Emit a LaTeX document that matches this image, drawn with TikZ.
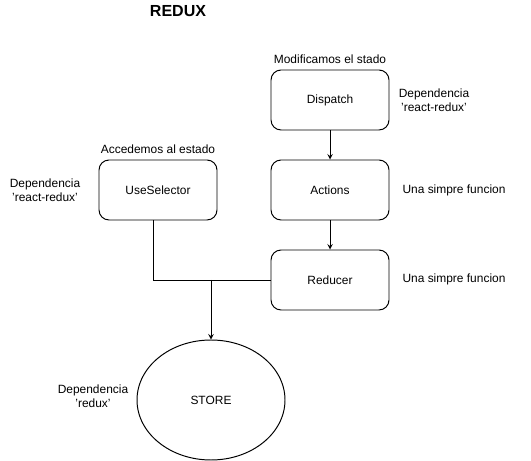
\documentclass[tikz,border=0pt]{standalone}
\usepackage{fontspec}
\setmainfont{Liberation Sans}
\usetikzlibrary{shapes.geometric}

\tikzstyle{function} = [rectangle, rounded corners=0.25cm, minimum width=2.95cm,
minimum height=1.5cm, text centered, draw=black, line width=0.7pt,
font=\fontsize{8.5}{10}\selectfont]
\tikzstyle{storage} = [ellipse, minimum width=3.7cm, minimum height=3cm,
text centered, draw=black, line width=0.7pt, font=\fontsize{8.5}{10}\selectfont]
\tikzstyle{note} = [align=center, font=\fontsize{8.5}{10}\selectfont]
\tikzstyle{arrow} = [line width=0.7pt,->,>=stealth]
\tikzstyle{line} = [line width=0.7pt,-]

\begin{document}
\begin{tikzpicture}
    \useasboundingbox (0,0) rectangle (13.275,-11.525);
    \node (title) at (4.45,-0.275) {\fontsize{11.4}{13}\selectfont\bfseries REDUX};

    \node (dispatch) [function] at (8.25,-2.5) {Dispatch};
    \node (actions) [function, below of=dispatch, yshift=-1.25cm] {Actions};
    \node (reducer) [function, below of=actions, yshift=-1.25cm] {Reducer};
    \node (selector) [function, left of=actions, xshift=-3.3cm] {UseSelector};
    \node (store) [storage, below of=selector, yshift=-4.25cm, xshift=1.325cm] {STORE};

    \node (modify) [note, above of=dispatch, yshift=0.025cm] {Modificamos el stado};
    \node (access) [note, above of=selector, yshift=0.025cm] {Accedemos al estado};
    \node (depdispatch) [note, right of=dispatch, xshift=1.6cm] {Dependencia\\'react-redux'};
    \node (depselector) [note, left of=selector, xshift=-1.825cm] {Dependencia\\'react-redux'};
    \node (depstore) [note, left of=store, xshift=-1.95cm, yshift=0.1cm] {Dependencia\\'redux'};
    \node (fnactions) [note, right of=actions, xshift=2.1cm] {Una simpre funcion};
    \node (fnreducer) [note, right of=reducer, xshift=2.1cm, yshift=0.025cm] {Una simpre funcion};

    \coordinate (join) at (store.north |- reducer.west);

    \draw [arrow] (dispatch) -- (actions);
    \draw [arrow] (actions) -- (reducer);
    \draw [line] ([xshift=-0.125cm]selector.south) |- (reducer.west);
    \draw [arrow] (join) -- (store);
\end{tikzpicture}
\end{document}
